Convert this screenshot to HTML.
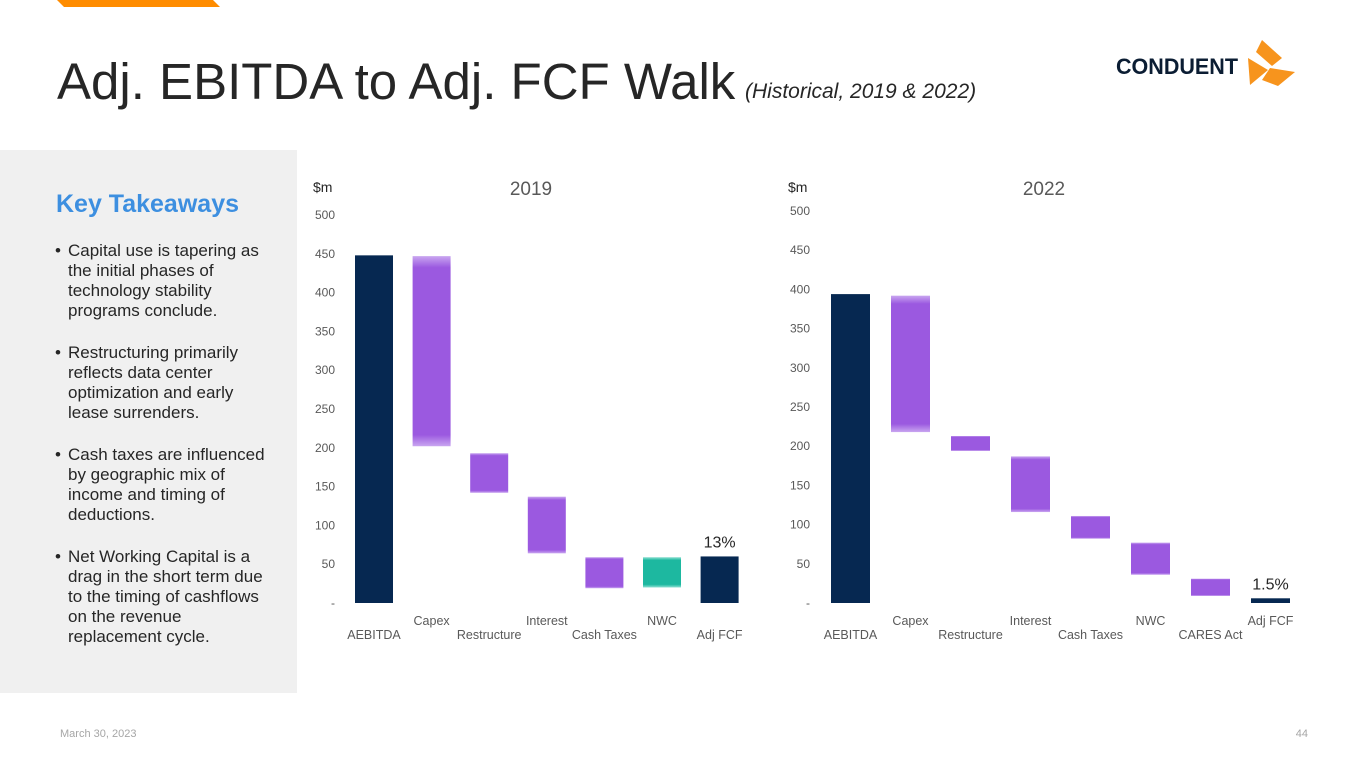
<!DOCTYPE html>
<html><head><meta charset="utf-8"><style>
body{margin:0;width:1365px;height:768px;background:#fff;font-family:"Liberation Sans",Arial,sans-serif;position:relative;overflow:hidden}
.abs{position:absolute}
</style></head><body>
<svg class="abs" style="left:0;top:0" width="1365" height="768">
<polygon points="57,0 213,0 220,7 64,7" fill="#ff8c00"/>
<text x="57" y="99" font-size="51" fill="#262626">Adj. EBITDA to Adj. FCF Walk</text>
<text x="745" y="98" font-size="21" font-style="italic" fill="#262626">(Historical, 2019 &amp; 2022)</text>
<text x="1116" y="74" font-size="22" font-weight="bold" fill="#0b1d33" textLength="122" lengthAdjust="spacingAndGlyphs">CONDUENT</text>
<g fill="#f7941d">
<polygon points="1262,40 1282,58 1272,66 1256,52"/>
<polygon points="1248,58 1268,70 1250,85"/>
<polygon points="1270,68 1295,72 1278,86 1262,80"/>
</g>
<rect x="0" y="150" width="297" height="543" fill="#f0f0f0"/>
<text x="56" y="212" font-size="25" font-weight="bold" fill="#3d8fe0">Key Takeaways</text>
<g font-size="17" fill="#262626">
<text x="55" y="256">•</text><text x="68" y="256">Capital use is tapering as</text><text x="68" y="276">the initial phases of</text><text x="68" y="296">technology stability</text><text x="68" y="316">programs conclude.</text>
<text x="55" y="358">•</text><text x="68" y="358">Restructuring primarily</text><text x="68" y="378">reflects data center</text><text x="68" y="398">optimization and early</text><text x="68" y="418">lease surrenders.</text>
<text x="55" y="460">•</text><text x="68" y="460">Cash taxes are influenced</text><text x="68" y="480">by geographic mix of</text><text x="68" y="500">income and timing of</text><text x="68" y="520">deductions.</text>
<text x="55" y="562">•</text><text x="68" y="562">Net Working Capital is a</text><text x="68" y="582">drag in the short term due</text><text x="68" y="602">to the timing of cashflows</text><text x="68" y="622">on the revenue</text><text x="68" y="642">replacement cycle.</text>
</g>
<text x="60" y="737" font-size="11" fill="#a6a6a6">March 30, 2023</text>
<text x="1308" y="737" font-size="11" fill="#a6a6a6" text-anchor="end">44</text>
<defs>
<linearGradient id="pg" x1="0" y1="0" x2="0" y2="1"><stop offset="0" stop-color="#c9a6f0"/><stop offset="0.06" stop-color="#9b59e0"/><stop offset="0.94" stop-color="#9b59e0"/><stop offset="1" stop-color="#c9a6f0"/></linearGradient>
<linearGradient id="tg" x1="0" y1="0" x2="0" y2="1"><stop offset="0" stop-color="#8fe0d2"/><stop offset="0.1" stop-color="#1db8a0"/><stop offset="0.9" stop-color="#1db8a0"/><stop offset="1" stop-color="#8fe0d2"/></linearGradient>
</defs>
<g id="charts"></g>
</svg>
<script>
const cats2019 = ["AEBITDA","Capex","Restructure","Interest","Cash Taxes","NWC","Adj FCF"];
const lo2019 = [0,202,142,64,19,20,0];
const hi2019 = [448,447,193,137,59,59,60];
const kind2019 = ["total","neg","neg","neg","neg","pos","total"];
const cats2022 = ["AEBITDA","Capex","Restructure","Interest","Cash Taxes","NWC","CARES Act","Adj FCF"];
const lo2022 = [0,218,194,116,82,36,9,0];
const hi2022 = [394,392,213,187,111,77,31,6];
const kind2022 = ["total","neg","neg","neg","neg","neg","neg","total"];
const yTicks = [0,50,100,150,200,250,300,350,400,450,500];
const NS="http://www.w3.org/2000/svg";
const root=document.getElementById('charts');
function mk(tag,attrs,parent){const e=document.createElementNS(NS,tag);for(const k in attrs)e.setAttribute(k,attrs[k]);parent.appendChild(e);return e;}
function chart(o){
  const g=mk('g',{},root);
  
  
  const y=v=>o.y0-(v/500)*(o.y0-o.y500);
  const x=i=>o.x0+i*o.step;
  const t=mk('text',{x:o.titleX,y:195,'font-size':19,fill:'#595959','text-anchor':'middle'},g);t.textContent=o.title;
  
  
  const u=mk('text',{x:o.unitX,y:192,'font-size':14,fill:'#262626'},g);u.textContent='$m';
  
  
  yTicks.forEach(v=>{const tt=mk('text',{x:o.tickX,y:y(v)+4,'font-size':12,fill:'#595959','text-anchor':'end'},g);tt.textContent=v===0?'-':v;
    
    });
  o.cats.forEach((c,i)=>{
    const fill=o.kind[i]==='total'?'#062851':(o.kind[i]==='pos'?'url(#tg)':'url(#pg)');
    const r=mk('rect',{x:x(i),y:y(o.hi[i]),width:o.bw,height:Math.max(1,y(o.lo[i])-y(o.hi[i])),fill:fill},g);
    
    
    const l=mk('text',{x:x(i)+o.bw/2,y:i%2?625:639,'font-size':12.5,fill:'#595959','text-anchor':'middle'},g);l.textContent=c;
    
    
  });
  const n=o.cats.length-1;
  const p=mk('text',{x:x(n)+o.bw/2,y:y(o.hi[n])-9,'font-size':16,fill:'#262626','text-anchor':'middle'},g);p.textContent=o.pct;
  
  
}
chart({title:'2019',cats:cats2019,lo:lo2019,hi:hi2019,kind:kind2019,y0:603,y500:215,x0:355,step:57.6,bw:38,tickX:335,unitX:313,titleX:531,pct:'13%'});
chart({title:'2022',cats:cats2022,lo:lo2022,hi:hi2022,kind:kind2022,y0:603,y500:211,x0:831,step:60,bw:39,tickX:810,unitX:788,titleX:1044,pct:'1.5%'});
</script>
</body></html>
